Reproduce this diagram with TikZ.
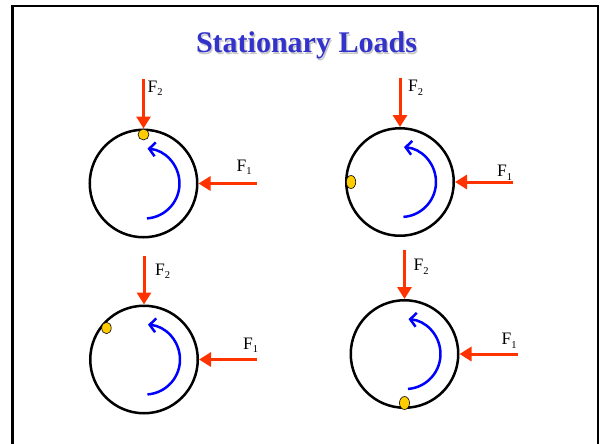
\documentclass[tikz,border=0pt]{standalone}
\usepackage{fontspec}
\setmainfont{Liberation Serif}
\usetikzlibrary{arrows.meta,shapes.geometric,calc}
\definecolor{loadred}{RGB}{255,51,0}
\definecolor{titleblue}{RGB}{51,51,204}
\definecolor{ballyellow}{RGB}{255,204,0}
\newcommand{\forcename}[1]{F\raisebox{-0.45ex}{\fontsize{10.5}{11}\selectfont #1}}
\tikzset{
    wheel/.style={draw,circle,line width=2.5pt,minimum size=107.5pt,inner sep=0pt},
    load/.style={draw=loadred,line width=3pt,-{Triangle[length=12pt,width=14pt]}},
    spin/.style={draw=blue,line width=2.5pt,-{Straight Barb[length=6pt,width=14pt]}},
    ball/.style={draw,ellipse,fill=ballyellow,line width=0.6pt,inner sep=0pt},
    force label/.style={anchor=north west,inner sep=0pt,font=\fontsize{17.5}{19}\selectfont},
    title font/.style={font=\fontsize{30}{36}\selectfont\bfseries,anchor=base,inner sep=0pt}
}

\begin{document}
\begin{tikzpicture}[x=1pt,y=-1pt]
\useasboundingbox (0,0) rectangle (600,444);
\draw[line width=3pt] (12.5,444) -- (12.5,6);
\draw[line width=2pt] (11,6) -- (598,6) -- (598,444);
\node[title font,text=black!22] (titleshadow) at (307.8,54.5) {Stationary Loads};
\node[title font,text=titleblue] (title) at (306.5,53) {Stationary Loads};
\foreach \i/\cx/\cy/\ang/\dw/\dh in {1/143.5/183.5/-90/11/11,2/400/182/180/9.5/13,3/144/359.5/-140/9.5/11.5,4/404.5/354/90/10/13}{
    \node[wheel] (wheel\i) at (\cx,\cy) {};
    \node[ball,minimum width=\dw pt,minimum height=\dh pt] (ball\i) at ($(wheel\i.center)+(\ang:49)$) {};
    \draw[spin] ($(wheel\i.center)+(1,0)+(86:35)$) arc[start angle=86,end angle=-85,radius=35];
}
\foreach \i/\ax/\ay/\bx/\by in {1/4/1/-20/-24,2/8/2/-16/-17,3/11/8/-14/-22,4/9/9/-16/-21}{
    \coordinate (ftop\i) at ($(wheel\i.north)+(0,-49)$);
    \coordinate (fside\i) at ($(wheel\i.east)+(58,0)$);
    \draw[load] (ftop\i) -- (wheel\i.north);
    \draw[load] (fside\i) -- (wheel\i.east);
    \node[force label] (ftwo\i) at ($(ftop\i)+(\ax,\ay)$) {\forcename{2}};
    \node[force label] (fone\i) at ($(fside\i)+(\bx,\by)$) {\forcename{1}};
}
\end{tikzpicture}
\end{document}
